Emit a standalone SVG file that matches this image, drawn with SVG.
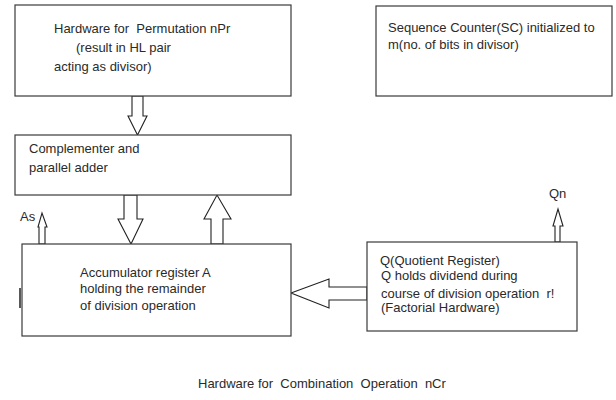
<svg xmlns="http://www.w3.org/2000/svg" width="616" height="400" viewBox="0 0 616 400">
<style>
.box{fill:#fff;stroke:#3a3a3a;stroke-width:1.2}
.arr{fill:#fff;stroke:#222;stroke-width:1.1;stroke-linejoin:miter}
text{font-family:"Liberation Sans",Arial,sans-serif;font-size:13px;fill:#2a2a2a;white-space:pre}
</style>
<rect width="616" height="400" fill="#fff"/>
<g id="connectors">
<path class="arr" d="M132,96 V116 H128 L137.5,135 L147,116 H143 V96 Z"/>
<path class="arr" d="M124,195 V219 H118 L131,244 L143,219 H137 V195 Z"/>
<path class="arr" d="M211,244 V219 H204 L217,195 L231,219 H223 V244 Z"/>
<path class="arr" d="M39,244 V227 H38 L42,213 L47,227 H45 V244 Z"/>
<path class="arr" d="M367,287 H329 V279 L291,293 L329,308 V300 H367 Z"/>
<path class="arr" d="M555,242 V226 H553 L558,209 L563,226 H560 V242 Z"/>
<line x1="20" y1="288" x2="20" y2="308" stroke="#222" stroke-width="1.5"/>
</g>
<g id="permutation">
<rect class="box" x="15" y="5" width="276" height="91"/>
<text x="54" y="33" xml:space="preserve">Hardware for  Permutation nPr</text>
<text x="76" y="52">(result in HL pair</text>
<text x="54" y="71">acting as divisor)</text>
</g>
<g id="sequence-counter">
<rect class="box" x="376" y="6" width="236" height="90"/>
<text x="388" y="32">Sequence Counter(SC) initialized to</text>
<text x="388" y="49">m(no. of bits in divisor)</text>
</g>
<g id="complementer">
<rect class="box" x="15" y="135" width="276" height="60"/>
<text x="29" y="153">Complementer and</text>
<text x="29" y="172">parallel adder</text>
</g>
<g id="accumulator">
<rect class="box" x="22" y="244" width="269" height="92"/>
<text x="80" y="277">Accumulator register A</text>
<text x="80" y="293">holding the remainder</text>
<text x="80" y="310">of division operation</text>
</g>
<g id="quotient">
<rect class="box" x="367" y="242" width="210" height="89"/>
<text x="380" y="265">Q(Quotient Register)</text>
<text x="381" y="280">Q holds dividend during</text>
<text x="381" y="298" xml:space="preserve">course of division operation  r!</text>
<text x="381" y="312">(Factorial Hardware)</text>
</g>
<g id="labels">
<text x="20" y="221">As</text>
<text x="549" y="198">Qn</text>
<text x="198" y="388" xml:space="preserve">Hardware for  Combination  Operation  nCr</text>
</g>
</svg>
